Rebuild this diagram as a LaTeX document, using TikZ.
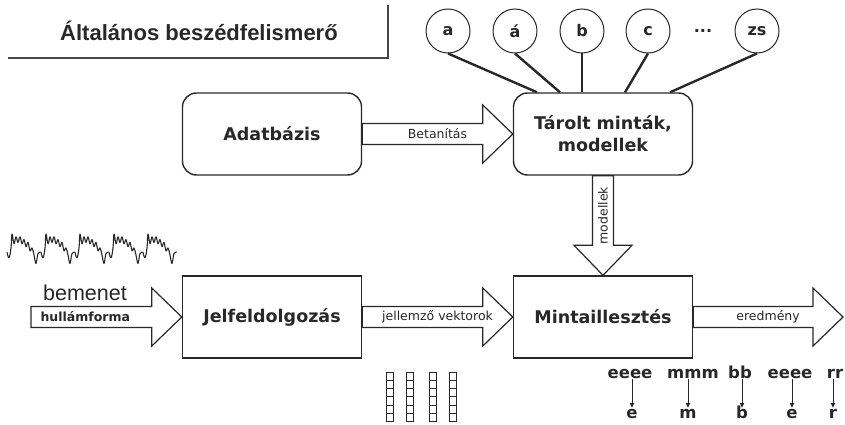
\documentclass[tikz,border=0pt]{standalone}
\usepackage{fontspec}
\setmainfont{DejaVu Sans}
\newfontfamily\arialfont{Liberation Sans}
\usetikzlibrary{arrows.meta,calc}
\definecolor{bsInk} {RGB}{ 40, 40, 40}
\definecolor{bsGrey}{RGB}{ 70, 70, 70}

% block arrow, left to right: [label pos]{start}{tip}{label}
\newcommand\hfat[4][0.5]{%
  \draw[fatarr] ($(#2)+(0,-\aS)$) -- ($(#3)+(-\aL,-\aS)$) -- ($(#3)+(-\aL,-\aH)$) -- (#3)
     -- ($(#3)+(-\aL,\aH)$) -- ($(#3)+(-\aL,\aS)$) -- ($(#2)+(0,\aS)$) -- cycle;
  \path (#2) -- (#3) node[lbl,pos=#1] {#4};}
% block arrow, top to bottom
\newcommand\vfat[4][0.5]{%
  \draw[fatarr] ($(#2)+(-\aS,0)$) -- ($(#3)+(-\aS,-\aL)$) -- ($(#3)+(-\aH,-\aL)$) -- (#3)
     -- ($(#3)+(\aH,-\aL)$) -- ($(#3)+(\aS,-\aL)$) -- ($(#2)+(\aS,0)$) -- cycle;
  \path (#2) -- (#3) node[lbl,pos=#1,rotate=90] {#4};}

\begin{document}
\begin{tikzpicture}[
  x=1pt,y=-1pt,
  font=\fontsize{12.5}{14}\selectfont,
  title/.style={font=\arialfont\fontsize{22}{26}\selectfont\bfseries,text=bsInk},
  frame/.style={draw=bsGrey,line width=1.2pt},
  rbox/.style={rectangle,rounded corners=14pt,draw=bsInk,line width=1.4pt,
               fill=white,minimum width=179pt,minimum height=82pt,align=center,
               text=bsInk,font=\fontsize{17.5}{22}\selectfont\bfseries},
  sbox/.style={rbox,rounded corners=0pt},
  sym/.style={circle,draw=bsInk,line width=1pt,minimum size=44pt,inner sep=0pt,
              text=bsInk,font=\fontsize{16}{18}\selectfont\bfseries},
  symtxt/.style={sym,draw=none},
  spoke/.style={draw=bsInk,line width=2.4pt},
  fatarr/.style={draw=bsInk,line width=1.2pt,fill=white,line join=miter},
  lbl/.style={font=\fontsize{12.5}{14}\selectfont,text=bsInk,inner sep=0pt},
  inlbl/.style={font=\arialfont\fontsize{21.5}{24}\selectfont,text=bsInk},
  wave/.style={draw=bsInk,line width=1.1pt,line join=round},
  cell/.style={draw=bsInk,line width=0.9pt},
  seg/.style={font=\fontsize{16.5}{18}\selectfont\bfseries,text=bsInk,
              text height=9pt,text depth=0pt,inner sep=1pt,anchor=base},
  tick/.style={-{Triangle[length=5pt,width=4.5pt]},draw=bsInk,line width=1pt}
]
\useasboundingbox (0,0) rectangle (845,425);
\def\xL{272}
\def\xR{603}
\def\yT{134}
\def\yB{317}
\def\aS{10.5}
\def\aH{29}
\def\aL{30}

% --- Title
\node[title] (ttl) at (199,31) {Általános beszédfelismerő};
\draw[frame] (8,58) -- (388,58) -- (388,5);

% --- Training row
\node[rbox] (adat) at (\xL,\yT) {Adatbázis};
\node[rbox] (tar) at (\xR,\yT) {Tárolt minták,\\modellek};
\hfat{adat.east}{tar.west}{Betanítás}

% --- Phoneme symbols
\foreach \nm/\cx/\txt in {sa/448/a,saa/515/á,sb/582/b,sc/648/c,szs/757/zs}
  \node[sym] (\nm) at (\cx,31) {\txt};
\node[symtxt] (dots) at (703,31) {...};
\foreach \nm/\dx in {sa/-66,saa/-43,sb/-21,sc/22,szs/67}
  \draw[spoke] (\nm.south) -- ([xshift=\dx pt]tar.north);

% --- Recognition row
\coordinate (in) at (31,\yB);
\coordinate (out) at (843,\yB);
\node[sbox] (jel) at (\xL,\yB) {Jelfeldolgozás};
\node[sbox] (minta) at (\xR,\yB) {Mintaillesztés};
\hfat[0.36]{in}{jel.west}{\textbf{hullámforma}}
\hfat{jel.east}{minta.west}{jellemző vektorok}
\hfat{minta.east}{out}{eredmény}
\vfat[0.4]{tar.south}{minta.north}{modellek}
\node[inlbl] (bem) at (85,293) {bemenet};

% --- Waveform
\foreach \i in {0,...,4}
  \draw[wave,shift={(7+34*\i,248)},yscale=1.4] plot[smooth,tension=0.7] coordinates
    {(0,3) (2,7) (4,0) (5,-10) (7,-3) (9,-8) (11,-4) (13,-8) (15,-3) (17,-6)
     (19,-1) (21,-4) (23,2) (25,0) (27,5) (29,11) (31,4) (34,3)};

% --- Feature vectors
\foreach \cx in {390,410,433,453}
  \foreach \k in {0,...,5}
    \draw[cell] (\cx-3.5,372+\k*8.3) rectangle ++(7,8.3);

% --- Segments -> result
\foreach \i/\wx/\lx/\w/\l in {1/630/632/eeee/e,2/693/688/mmm/m,3/740/742/bb/b,
                               4/790/792/eeee/e,5/835/833/rr/r}{
  \node[seg] (w\i) at (\wx,378) {\w};
  \node[seg] (l\i) at (\lx,418) {\l};
  \draw[tick] (l\i.north |- w\i.south) -- (l\i.north);
}
\end{tikzpicture}
\end{document}
